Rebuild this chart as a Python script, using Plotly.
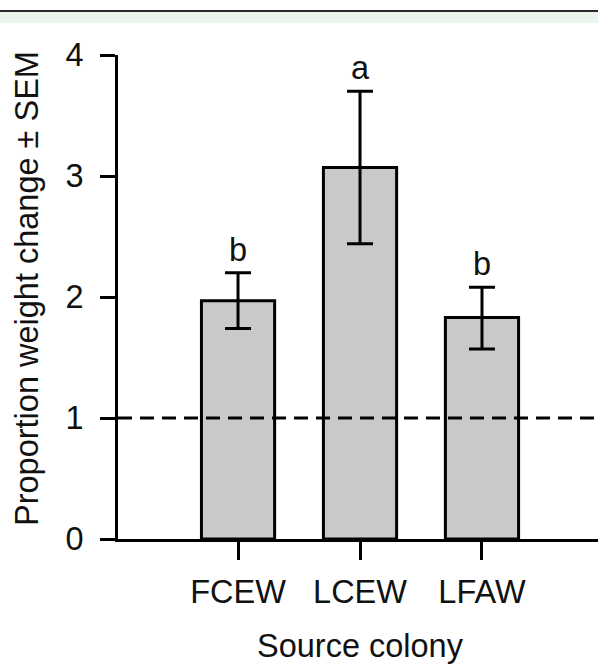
import plotly.graph_objects as go

categories = ["FCEW", "LCEW", "LFAW"]
means = [1.97, 3.07, 1.83]
err_plus = [0.23, 0.63, 0.25]
err_minus = [0.23, 0.63, 0.26]
letters = ["b", "a", "b"]
y_ticks = [0, 1, 2, 3, 4]
ref_value = 1

FONT = "Liberation Sans, Arial, sans-serif"
FS = 32.5
LW = 3

fig = go.Figure()
fig.add_trace(go.Bar(
    x=categories, y=means, width=0.6,
    marker=dict(color="#c9c9c9", line=dict(color="black", width=LW)),
    error_y=dict(type="data", array=err_plus, arrayminus=err_minus,
                 color="black", thickness=LW, width=13),
    showlegend=False,
))

for c, m, e, l in zip(categories, means, err_plus, letters):
    fig.add_annotation(x=c, y=m + e, text=l, showarrow=False,
                       yanchor="middle", yshift=23,
                       font=dict(family=FONT, size=FS, color="#111"))

# reference dashed line
fig.add_shape(type="line", xref="paper", yref="y", x0=0, x1=1,
              y0=ref_value, y1=ref_value, layer="above",
              line=dict(color="black", width=LW, dash="14px,8px"))

# top band and border (cropped figure frame)
fig.add_shape(type="rect", xref="paper", yref="paper",
              x0=-0.25, x1=1.01, y0=1.0661, y1=1.0909,
              fillcolor="#eaf5ec", line=dict(width=0), layer="below")
fig.add_shape(type="line", xref="paper", yref="paper",
              x0=-0.25, x1=1.01, y0=1.0909, y1=1.0909,
              line=dict(color="#2a2a2a", width=2))

fig.add_annotation(xref="paper", yref="paper", x=-0.1896, y=0.5186,
                   text="Proportion weight change ± SEM", textangle=-90,
                   showarrow=False, xanchor="center", yanchor="middle",
                   font=dict(family=FONT, size=FS, color="#111"))
fig.add_annotation(xref="paper", yref="paper", x=0.506, y=-0.222,
                   text="Source colony", showarrow=False,
                   xanchor="center", yanchor="middle",
                   font=dict(family=FONT, size=FS, color="#111"))

fig.update_layout(
    width=598, height=664,
    margin=dict(l=118, r=0, t=55, b=125),
    paper_bgcolor="white", plot_bgcolor="white",
    font=dict(family=FONT, size=FS, color="#111"),
    bargap=0.4,
)
fig.update_xaxes(
    type="category", range=[-0.984, 2.951],
    showline=True, linecolor="black", linewidth=LW,
    ticks="outside", ticklen=18, tickwidth=LW, tickcolor="black",
    showgrid=False, zeroline=False,
    tickfont=dict(family=FONT, size=FS, color="#111"),
    ticklabelstandoff=4,
)
fig.update_yaxes(
    range=[0, 4], tickvals=y_ticks,
    showline=True, linecolor="black", linewidth=LW,
    ticks="outside", ticklen=15, tickwidth=LW, tickcolor="black",
    showgrid=False, zeroline=False,
    tickfont=dict(family=FONT, size=FS, color="#111"),
    ticklabelstandoff=10,
)

fig.write_html("out.html")
